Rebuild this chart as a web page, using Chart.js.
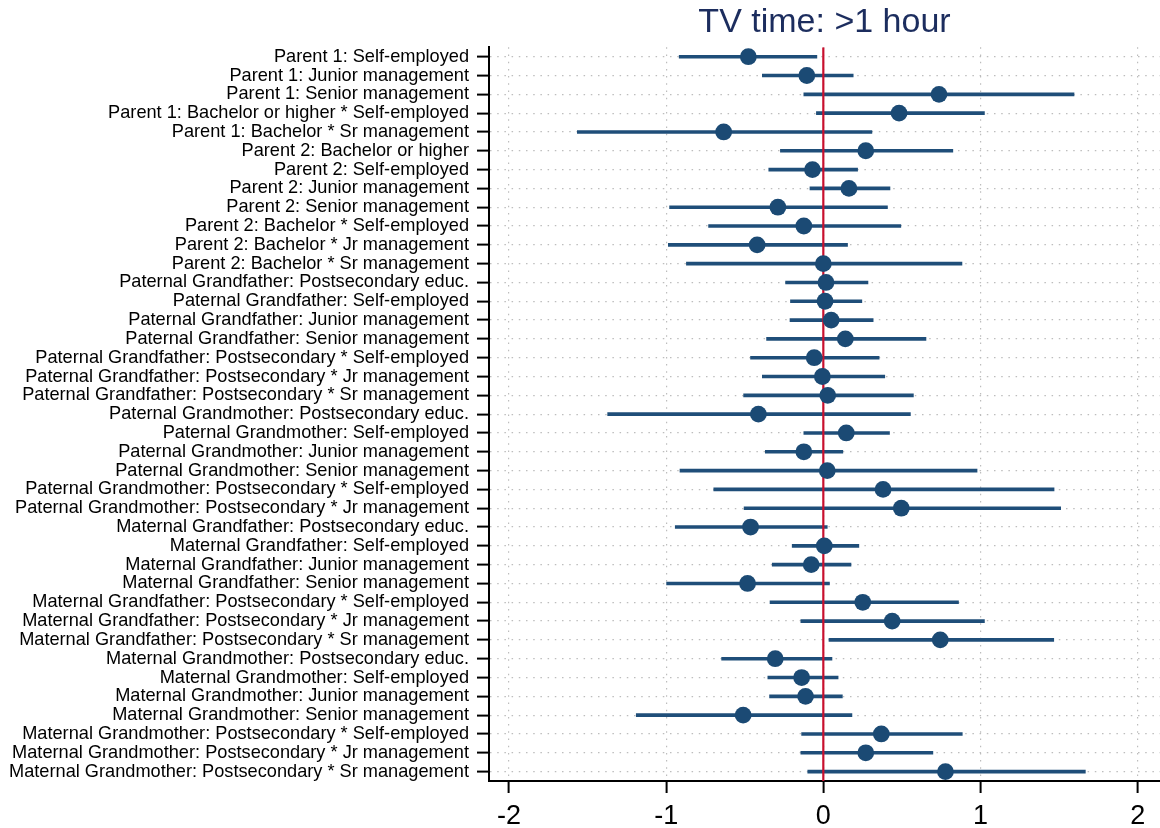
<!DOCTYPE html>
<html>
<head>
<meta charset="utf-8">
<title>TV time: >1 hour</title>
<script src="https://cdn.jsdelivr.net/npm/chart.js@4.4.1/dist/chart.umd.min.js"></script>
<style>
  html, body { margin: 0; padding: 0; background: #ffffff; }
  #wrap { width: 1160px; height: 828px; }
</style>
</head>
<body>
<div id="wrap"><canvas id="coefplot" width="1160" height="828"></canvas></div>
<script>
// Regression terms, top to bottom
const rowLabels = [
  "Parent 1: Self-employed",
  "Parent 1: Junior management",
  "Parent 1: Senior management",
  "Parent 1: Bachelor or higher * Self-employed",
  "Parent 1: Bachelor * Sr management",
  "Parent 2: Bachelor or higher",
  "Parent 2: Self-employed",
  "Parent 2: Junior management",
  "Parent 2: Senior management",
  "Parent 2: Bachelor * Self-employed",
  "Parent 2: Bachelor * Jr management",
  "Parent 2: Bachelor * Sr management",
  "Paternal Grandfather: Postsecondary educ.",
  "Paternal Grandfather: Self-employed",
  "Paternal Grandfather: Junior management",
  "Paternal Grandfather: Senior management",
  "Paternal Grandfather: Postsecondary * Self-employed",
  "Paternal Grandfather: Postsecondary * Jr management",
  "Paternal Grandfather: Postsecondary * Sr management",
  "Paternal Grandmother: Postsecondary educ.",
  "Paternal Grandmother: Self-employed",
  "Paternal Grandmother: Junior management",
  "Paternal Grandmother: Senior management",
  "Paternal Grandmother: Postsecondary * Self-employed",
  "Paternal Grandmother: Postsecondary * Jr management",
  "Maternal Grandfather: Postsecondary educ.",
  "Maternal Grandfather: Self-employed",
  "Maternal Grandfather: Junior management",
  "Maternal Grandfather: Senior management",
  "Maternal Grandfather: Postsecondary * Self-employed",
  "Maternal Grandfather: Postsecondary * Jr management",
  "Maternal Grandfather: Postsecondary * Sr management",
  "Maternal Grandmother: Postsecondary educ.",
  "Maternal Grandmother: Self-employed",
  "Maternal Grandmother: Junior management",
  "Maternal Grandmother: Senior management",
  "Maternal Grandmother: Postsecondary * Self-employed",
  "Maternal Grandmother: Postsecondary * Jr management",
  "Maternal Grandmother: Postsecondary * Sr management"
];

// Point estimates
const coef = [
  -0.477, -0.105, 0.736, 0.482, -0.634, 0.270, -0.069, 0.163, -0.289, -0.124,
  -0.421, 0.000, 0.017, 0.011, 0.050, 0.140, -0.058, -0.006, 0.028, -0.413,
  0.146, -0.124, 0.025, 0.380, 0.496, -0.463, 0.006, -0.077, -0.482, 0.251,
  0.438, 0.744, -0.306, -0.138, -0.113, -0.510, 0.369, 0.270, 0.777
];

// Lower bounds of the confidence intervals
const ciLow = [
  -0.917, -0.388, -0.124, -0.044, -1.565, -0.273, -0.347, -0.085, -0.978, -0.730,
  -0.986, -0.871, -0.240, -0.209, -0.212, -0.361, -0.463, -0.388, -0.507, -1.372,
  -0.124, -0.369, -0.912, -0.697, -0.504, -0.942, -0.198, -0.325, -0.997, -0.339,
  -0.143, 0.036, -0.647, -0.353, -0.342, -1.190, -0.138, -0.143, -0.099
];

// Upper bounds of the confidence intervals
const ciHigh = [
  -0.041, 0.190, 1.595, 1.025, 0.309, 0.824, 0.218, 0.424, 0.408, 0.493,
  0.154, 0.882, 0.284, 0.245, 0.317, 0.653, 0.355, 0.391, 0.573, 0.554,
  0.421, 0.124, 0.978, 1.468, 1.510, 0.025, 0.226, 0.176, 0.039, 0.860,
  1.025, 1.466, 0.055, 0.094, 0.121, 0.182, 0.884, 0.697, 1.667
];

const xTickValues = [-2, -1, 0, 1, 2];
const xTickLabels = ["-2", "-1", "0", "1", "2"];
const titleText = "TV time: >1 hour";

// Row positions 1..N on the vertical axis
const rowPos = rowLabels.map((_, i) => i + 1);

const X_MIN = -2.127, X_MAX = 2.142;
const NAVY = "#1b4a74";
const GRID = "#bdbdbd";
const DOTS = [1.5, 5.7];
const FONT = "'Liberation Sans', Arial, Helvetica, sans-serif";

const ciBars = rowPos.map((r, i) => ({ y: r, x: [ciLow[i], ciHigh[i]] }));
const points = rowPos.map((r, i) => ({ y: r, x: coef[i] }));
const zeroLine = [{ x: 0, y: 0.5 }, { x: 0, y: rowLabels.length + 0.5 }];

// Fixed axis box sizes so the plot area lands where it should
function fixBox(size) {
  return (s) => {
    if (s.isHorizontal()) s.height = size; else s.width = size;
    s.paddingLeft = s.paddingRight = s.paddingTop = s.paddingBottom = 0;
  };
}

new Chart(document.getElementById("coefplot"), {
  type: "bar",
  data: {
    datasets: [
      {
        type: "scatter",
        data: points,
        xAxisID: "x",
        yAxisID: "y",
        backgroundColor: NAVY,
        borderWidth: 0,
        pointRadius: 8.4,
        pointHoverRadius: 8.4,
        order: 0
      },
      {
        type: "line",
        data: zeroLine,
        xAxisID: "x",
        yAxisID: "y",
        borderColor: "#c8102e",
        borderWidth: 2.2,
        pointRadius: 0,
        fill: false,
        order: 1
      },
      {
        type: "bar",
        data: ciBars,
        xAxisID: "x",
        yAxisID: "y",
        backgroundColor: "#1f4e79",
        borderWidth: 0,
        barThickness: 3,
        order: 2
      }
    ]
  },
  options: {
    indexAxis: "y",
    responsive: false,
    animation: false,
    events: [],
    layout: { padding: 0, autoPadding: false },
    plugins: {
      legend: { display: false },
      tooltip: { enabled: false },
      title: { display: false }
    },
    scales: {
      x: {
        type: "linear",
        axis: "x",
        position: "bottom",
        offset: false,
        beginAtZero: false,
        bounds: "data",
        min: X_MIN,
        max: X_MAX,
        afterBuildTicks: (s) => { s.ticks = xTickValues.map(v => ({ value: v })); },
        afterFit: fixBox(47),
        ticks: {
          autoSkip: false,
          padding: 7,
          color: "#000",
          font: { family: FONT, size: 27 },
          callback: (v) => xTickLabels[xTickValues.indexOf(v)]
        },
        grid: {
          offset: false,
          color: GRID,
          lineWidth: 1.2,
          tickColor: "#000",
          tickWidth: 2,
          tickLength: 12
        },
        border: { display: true, color: "#000", width: 2, dash: DOTS }
      },
      xTop: {
        type: "linear",
        axis: "x",
        position: "top",
        offset: false,
        min: X_MIN,
        max: X_MAX,
        display: true,
        afterFit: fixBox(47.3),
        ticks: { display: false },
        grid: { display: false, drawTicks: false, offset: false },
        border: { display: false },
        title: {
          display: true,
          text: titleText,
          color: "#1c2d5e",
          font: { family: FONT, size: 34 },
          padding: { top: 2, bottom: 0 }
        }
      },
      y: {
        type: "linear",
        axis: "y",
        position: "left",
        offset: false,
        bounds: "data",
        reverse: true,
        min: 0.5,
        max: rowLabels.length + 0.5,
        afterBuildTicks: (s) => { s.ticks = rowPos.map(v => ({ value: v })); },
        afterFit: fixBox(489),
        ticks: {
          autoSkip: false,
          padding: 8,
          color: "#000",
          font: { family: FONT, size: 18.2 },
          callback: (v) => rowLabels[v - 1]
        },
        grid: {
          offset: false,
          color: GRID,
          lineWidth: 1.2,
          tickColor: "#000",
          tickWidth: 2,
          tickLength: 12
        },
        border: { display: true, color: "#000", width: 2, dash: DOTS }
      }
    }
  }
});
</script>
</body>
</html>
